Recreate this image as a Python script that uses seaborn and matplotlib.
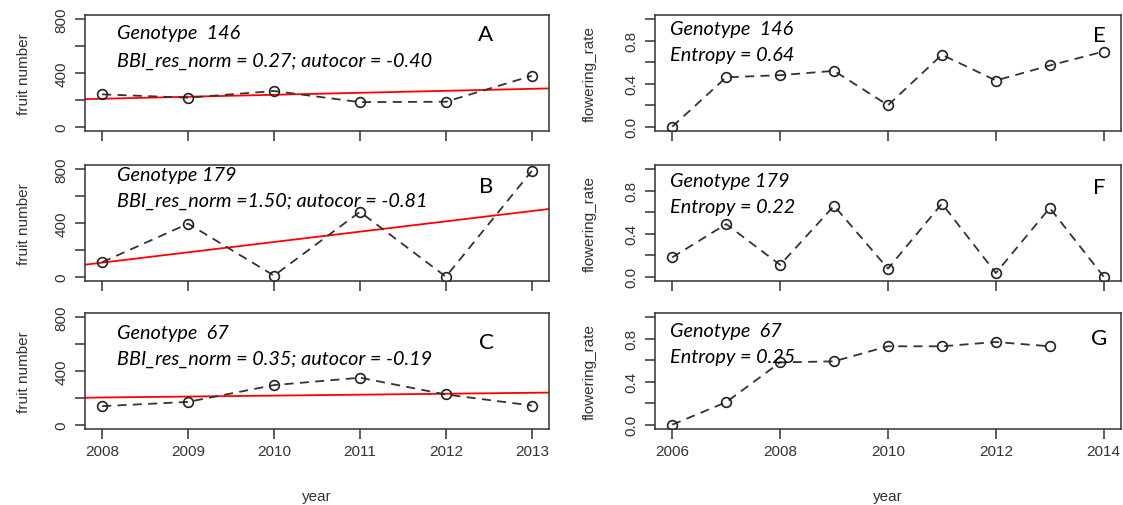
import numpy as np
import matplotlib
matplotlib.use("Agg")
import matplotlib.pyplot as plt
import seaborn as sns

# fruit number per year (left column)
years_fruit = [2008, 2009, 2010, 2011, 2012, 2013]
fruit_146 = [241, 216, 266, 183, 186, 379]
fruit_179 = [108, 395, 8, 483, 0, 788]
fruit_67 = [138, 170, 295, 350, 225, 143]

# flowering rate per year (right column)
years_flow = [2006, 2007, 2008, 2009, 2010, 2011, 2012, 2013, 2014]
flow_146 = [0.00, 0.46, 0.48, 0.52, 0.20, 0.67, 0.43, 0.57, 0.70]
flow_179 = [0.18, 0.49, 0.11, 0.66, 0.075, 0.68, 0.034, 0.64, 0.00]
years_flow_67 = [2006, 2007, 2008, 2009, 2010, 2011, 2012, 2013]
flow_67 = [0.00, 0.21, 0.58, 0.59, 0.73, 0.73, 0.77, 0.73]

left_titles = ["Genotype  146", "Genotype 179", "Genotype  67"]
left_stats = ["BBI_res_norm = 0.27; autocor = -0.40",
              "BBI_res_norm =1.50; autocor = -0.81",
              "BBI_res_norm = 0.35; autocor = -0.19"]
right_titles = ["Genotype  146", "Genotype 179", "Genotype  67"]
right_stats = ["Entropy = 0.64", "Entropy = 0.22", "Entropy = 0.25"]
left_letters = ["A", "B", "C"]
right_letters = ["E", "F", "G"]

sns.set_style("white")
plt.rcParams["font.family"] = ["Liberation Sans", "DejaVu Sans"]

W, H = 1123, 506
fig = plt.figure(figsize=(W / 100, H / 100), dpi=100)


def px_axes(x0, y0, x1, y1):
    return fig.add_axes([x0 / W, 1 - y1 / H, (x1 - x0) / W, (y1 - y0) / H])


def style_axes(ax, yticks, ylabels, show_x):
    for s in ax.spines.values():
        s.set_visible(True)
        s.set_color("#333333")
        s.set_linewidth(1.1)
    ax.tick_params(axis="both", direction="out", length=7, width=1.1,
                   color="#333333", labelsize=11, labelcolor="#333333",
                   bottom=True, left=True)
    ax.tick_params(axis="y", pad=5)
    ax.set_yticks(yticks)
    ax.set_yticklabels(ylabels, rotation=90, va="center")
    if not show_x:
        ax.set_xticklabels([])
    ax.set_xlabel("")


line_kws = dict(color="#333333", linestyle=(0, (5, 3.5)), linewidth=1.3, marker="o",
                markersize=7, markerfacecolor="none", markeredgecolor="#222222",
                markeredgewidth=1.2)

fruit_sets = [fruit_146, fruit_179, fruit_67]
flow_sets = [(years_flow, flow_146), (years_flow, flow_179), (years_flow_67, flow_67)]
rows = [(16, 132), (166, 282), (314, 430)]

for i, (y0, y1) in enumerate(rows):
    # left column: fruit number with linear trend
    ax = px_axes(85, y0, 549, y1)
    ax.set_xlim(2008 - 0.2, 2013 + 0.2)
    ax.set_ylim(-32, 832)
    sns.regplot(x=years_fruit, y=fruit_sets[i], ax=ax, scatter=False, ci=None,
                truncate=False, color="red", line_kws=dict(linewidth=1.3))
    sns.lineplot(x=years_fruit, y=fruit_sets[i], ax=ax, **line_kws)
    ax.set_xlim(2008 - 0.2, 2013 + 0.2)
    ax.set_ylim(-32, 832)
    ax.set_xticks(years_fruit)
    style_axes(ax, [0, 200, 400, 600, 800], ["0", "", "400", "", "800"], i == 2)
    ax.set_ylabel("fruit number", fontsize=11, color="#333333")
    ax.yaxis.set_label_coords(-0.116, 0.5)

    # right column: flowering rate
    ax2 = px_axes(655, y0, 1121, y1)
    xs, ys = flow_sets[i]
    sns.lineplot(x=xs, y=ys, ax=ax2, **line_kws)
    ax2.set_xlim(2006 - 0.32, 2014 + 0.32)
    ax2.set_ylim(-0.04, 1.04)
    ax2.set_xticks([2006, 2008, 2010, 2012, 2014])
    style_axes(ax2, [0, 0.2, 0.4, 0.6, 0.8, 1.0],
               ["0.0", "", "0.4", "", "0.8", ""], i == 2)
    ax2.set_ylabel("flowering_rate", fontsize=11, color="#333333")
    ax2.yaxis.set_label_coords(-0.125, 0.5)

# panel annotations (Calibri-like italic)
ann = dict(family=["Lato", "DejaVu Sans"], style="italic", fontsize=14.3,
           color="black", va="center", ha="left")
letter = dict(family=["Lato", "DejaVu Sans"], fontsize=16, color="black",
              va="center", ha="center")
left_title_y = [34, 175, 334]
left_stat_y = [61, 201, 359]
for i in range(3):
    fig.text(117 / W, 1 - left_title_y[i] / H, left_titles[i], **ann)
    fig.text(117 / W, 1 - left_stat_y[i] / H, left_stats[i], **ann)
    fig.text(486 / W, 1 - [35, 187, 343][i] / H, left_letters[i], **letter)

right_title_y = [30, 182, 331]
right_stat_y = [56, 208, 357]
for i in range(3):
    fig.text(670 / W, 1 - right_title_y[i] / H, right_titles[i], **ann)
    fig.text(670 / W, 1 - right_stat_y[i] / H, right_stats[i], **ann)
    fig.text(1099 / W, 1 - [36, 188, 339][i] / H, right_letters[i], **letter)

fig.text(317 / W, 1 - 497 / H, "year", fontsize=11, color="#333333",
         ha="center", va="center")
fig.text(888 / W, 1 - 497 / H, "year", fontsize=11, color="#333333",
         ha="center", va="center")

fig.savefig("out.png", dpi=100)
